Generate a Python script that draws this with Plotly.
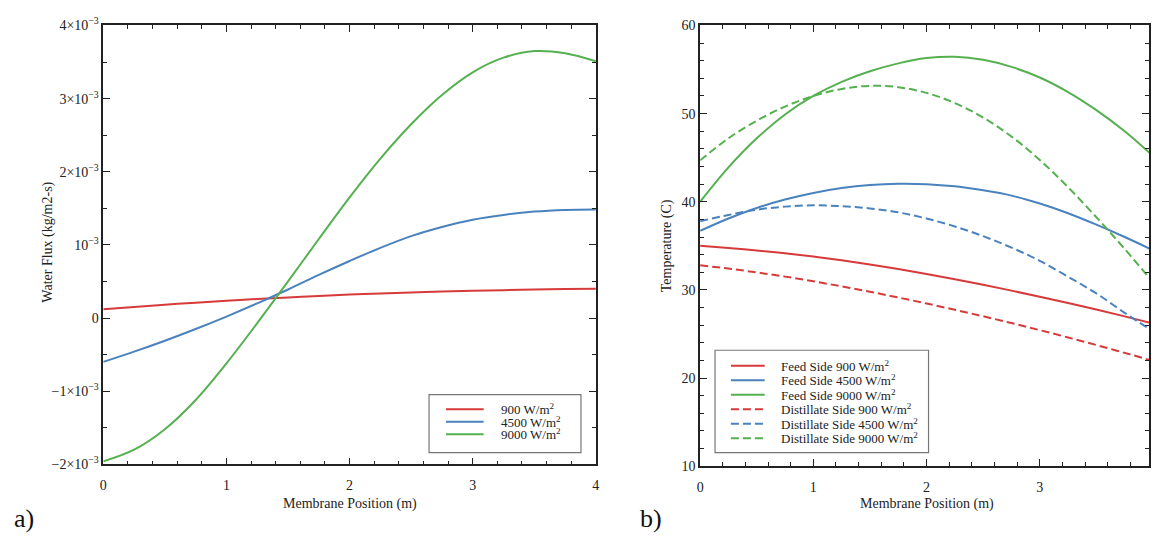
import plotly.graph_objects as go

W, H = 1154, 539
SERIF = "Liberation Serif, Times New Roman, serif"
INK = "#222222"

# ---- panel a): water flux along the membrane (values in 1e-3 kg/m2-s) ----
pos_a = [0, 0.25, 0.5, 0.75, 1.0, 1.25, 1.5, 1.75, 2.0, 2.25, 2.5, 2.75, 3.0, 3.25, 3.5, 3.75, 4.0]
flux_900 = [0.12, 0.152, 0.182, 0.21, 0.236, 0.26, 0.282, 0.302, 0.32, 0.336, 0.35, 0.362, 0.372,
            0.381, 0.389, 0.396, 0.402]
flux_4500 = [-0.60, -0.46, -0.31, -0.15, 0.02, 0.20, 0.39, 0.59, 0.78, 0.96, 1.12, 1.245, 1.345,
             1.41, 1.455, 1.478, 1.485]
flux_9000 = [-1.96, -1.80, -1.52, -1.12, -0.62, -0.07, 0.50, 1.08, 1.65, 2.18, 2.65, 3.05, 3.36,
             3.56, 3.65, 3.62, 3.51]
flux_scale = 1e-3
flux_names = ["900 W/m<sup>2</sup>", "4500 W/m<sup>2</sup>", "9000 W/m<sup>2</sup>"]
flux_ticks = [-2e-3, -1e-3, 0, 1e-3, 2e-3, 3e-3, 4e-3]
flux_ticktext = ["\u22122\u00d710<sup>\u22123</sup>", "\u22121\u00d710<sup>\u22123</sup>", "0",
                 "10<sup>\u22123</sup>", "2\u00d710<sup>\u22123</sup>", "3\u00d710<sup>\u22123</sup>",
                 "4\u00d710<sup>\u22123</sup>"]

# ---- panel b): feed / distillate temperatures (C) ----
pos_b = [0, 0.25, 0.5, 0.75, 1.0, 1.25, 1.5, 1.75, 2.0, 2.25, 2.5, 2.75, 3.0, 3.25, 3.5, 3.75, 4.0]
feed_900 = [35.0, 34.75, 34.47, 34.15, 33.78, 33.36, 32.89, 32.37, 31.81, 31.21, 30.58, 29.92,
            29.23, 28.51, 27.77, 27.0, 26.2]
feed_4500 = [36.7, 38.1, 39.3, 40.25, 41.0, 41.55, 41.9, 42.05, 42.0, 41.75, 41.3, 40.7, 39.8,
             38.7, 37.4, 36.0, 34.5]
feed_9000 = [40.0, 43.9, 47.2, 49.9, 52.0, 53.6, 54.8, 55.7, 56.3, 56.45, 56.1, 55.3, 54.1, 52.45,
             50.4, 48.0, 45.2]
dist_900 = [32.8, 32.42, 31.99, 31.51, 30.98, 30.40, 29.79, 29.14, 28.46, 27.75, 27.01, 26.24,
            25.44, 24.61, 23.75, 22.86, 21.95]
dist_4500 = [37.8, 38.5, 39.1, 39.45, 39.6, 39.5, 39.25, 38.8, 38.1, 37.2, 36.1, 34.8, 33.3, 31.5,
             29.6, 27.4, 25.3]
dist_9000 = [44.7, 47.2, 49.2, 50.8, 52.0, 52.8, 53.15, 53.0, 52.35, 51.2, 49.55, 47.4, 44.75,
             41.65, 38.25, 34.65, 30.85]
temp_series = [feed_900, feed_4500, feed_9000, dist_900, dist_4500, dist_9000]
temp_names = ["Feed Side 900 W/m<sup>2</sup>", "Feed Side 4500 W/m<sup>2</sup>", "Feed Side 9000 W/m<sup>2</sup>",
              "Distillate Side 900 W/m<sup>2</sup>", "Distillate Side 4500 W/m<sup>2</sup>",
              "Distillate Side 9000 W/m<sup>2</sup>"]

RED, BLUE, GREEN = "#d63a3a", "#4a82bd", "#55b04f"
DASH = "8px,4px"
flux_colors = [RED, BLUE, GREEN]
temp_colors = [RED, BLUE, GREEN, RED, BLUE, GREEN]
temp_dashes = ["solid", "solid", "solid", DASH, DASH, DASH]


def px(x):
    return x / W


def py(y):
    return 1 - y / H


fig = go.Figure()

for vals, name, col in zip([flux_900, flux_4500, flux_9000], flux_names, flux_colors):
    fig.add_trace(go.Scatter(x=pos_a, y=[v * flux_scale for v in vals], name=name, mode="lines",
                             line=dict(color=col, width=2, shape="spline"),
                             xaxis="x", yaxis="y", showlegend=False))

for vals, name, col, dash in zip(temp_series, temp_names, temp_colors, temp_dashes):
    fig.add_trace(go.Scatter(x=pos_b, y=vals, name=name, mode="lines",
                             line=dict(color=col, width=2, dash=dash, shape="spline"),
                             xaxis="x2", yaxis="y2", showlegend=False))

axis_common = dict(showline=True, linecolor=INK, linewidth=1.5, mirror="ticks",
                   ticks="inside", ticklen=7, tickwidth=1, tickcolor=INK,
                   showgrid=False, zeroline=False,
                   tickfont=dict(family=SERIF, size=14, color=INK))
x_minor = dict(dtick=0.2, ticks="inside", ticklen=4, tickcolor=INK)

fig.update_layout(
    width=W, height=H,
    margin=dict(l=0, r=0, t=0, b=0),
    paper_bgcolor="white", plot_bgcolor="white",
    xaxis=dict(domain=[px(100), px(596)], range=[0, 4], dtick=1, anchor="y",
               minor=x_minor, ticklabelstandoff=7, **axis_common),
    yaxis=dict(domain=[py(470), py(16)], range=[-2e-3, 4e-3], anchor="x",
               tickvals=flux_ticks, ticktext=flux_ticktext,
               minor=dict(dtick=0.5e-3, ticks="inside", ticklen=4, tickcolor=INK),
               **axis_common),
    xaxis2=dict(domain=[px(701), px(1153)], range=[0, (1153 - 701) / 114], dtick=1, anchor="y2",
                minor=x_minor, ticklabelstandoff=7, **axis_common),
    yaxis2=dict(domain=[py(472), py(16)], range=[10, 60], dtick=10, anchor="x2",
                minor=dict(dtick=2, ticks="inside", ticklen=4, tickcolor=INK),
                **axis_common),
)

ann = []
shapes = []
title_font = dict(family=SERIF, size=14, color=INK)


def label(text, x, y, **kw):
    d = dict(text=text, x=px(x), y=py(y), xref="paper", yref="paper", showarrow=False,
             xanchor="center", yanchor="middle", font=title_font)
    d.update(kw)
    ann.append(d)


# axis titles
label("Membrane Position (m)", 348, 511)
label("Membrane Position (m)", 929, 511)
label("Water Flux (kg/m2-s)", 44, 240, textangle=-90)
label("Temperature (C)", 667, 244, textangle=-90)

# panel letters
label("a)", 20, 526, font=dict(family=SERIF, size=26, color="#111"))
label("b)", 652, 526, font=dict(family=SERIF, size=26, color="#111"))


def draw_legend(box, names, colors, dashes, first_row, row_gap, line_x, text_x):
    x0, y0, x1, y1 = box
    shapes.append(dict(type="rect", xref="paper", yref="paper", x0=px(x0), x1=px(x1),
                       y0=py(y1), y1=py(y0), line=dict(color="#777", width=1.2),
                       fillcolor="white", layer="above"))
    for i, (nm, col, ds) in enumerate(zip(names, colors, dashes)):
        yy = first_row + i * row_gap
        shapes.append(dict(type="line", xref="paper", yref="paper", x0=px(line_x[0]), x1=px(line_x[1]),
                           y0=py(yy), y1=py(yy), line=dict(color=col, width=2, dash=ds), layer="above"))
        label(nm, text_x, yy, xanchor="left", font=dict(family=SERIF, size=13, color=INK))


draw_legend((428, 398, 581, 458), flux_names, flux_colors, ["solid"] * 3,
            413, 13, (445, 483), 498)
draw_legend((716, 352, 931, 458), temp_names, temp_colors, temp_dashes,
            368, 15, (732, 766), 780)

fig.update_layout(annotations=ann, shapes=shapes)

fig.write_html("out.html")
